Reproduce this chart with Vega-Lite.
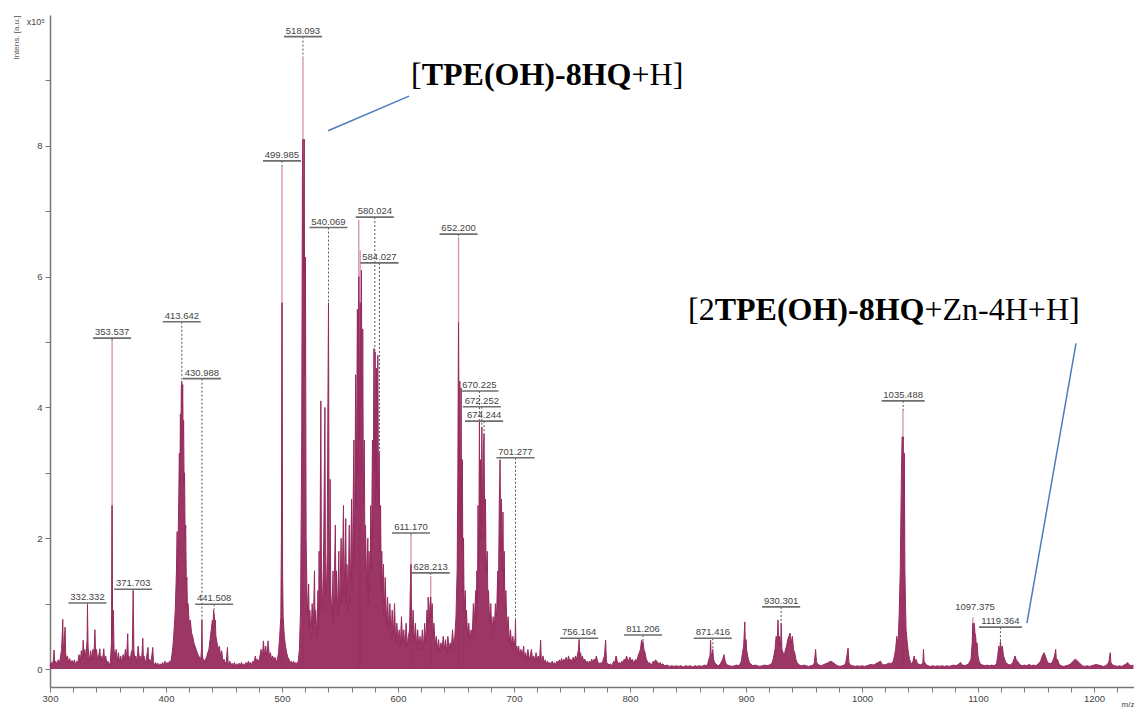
{
"$schema": "https://vega.github.io/schema/vega-lite/v6.json",
"width": 1084, "height": 672,
"autosize": {"type": "none"},
"padding": {"left": 50, "top": 15, "right": 0, "bottom": 22},
"background": "white",
"config": {"view": {"stroke": null}},
"datasets": {
"spec": [
{"m":300,"i":0.05},{"m":301,"i":0.1},{"m":302,"i":0.06},{"m":303,"i":0.15},{"m":303.5,"i":0.29},{"m":304,"i":0.08},{"m":305,"i":0.12},{"m":306,"i":0.05},{"m":307,"i":0.14},{"m":308,"i":0.07},{"m":309,"i":0.18},{"m":310,"i":0.3},{"m":310.6,"i":0.55},{"m":311,"i":0.76},{"m":311.5,"i":0.3},{"m":312,"i":0.35},{"m":313,"i":0.64},{"m":313.5,"i":0.25},{"m":314,"i":0.15},{"m":315,"i":0.2},{"m":316,"i":0.1},{"m":317,"i":0.16},{"m":318,"i":0.07},{"m":319,"i":0.13},{"m":320,"i":0.08},{"m":321,"i":0.14},{"m":322,"i":0.06},{"m":323,"i":0.12},{"m":324,"i":0.1},{"m":325,"i":0.22},{"m":326,"i":0.1},{"m":327,"i":0.28},{"m":328,"i":0.15},{"m":328.6,"i":0.44},{"m":329.2,"i":0.2},{"m":330,"i":0.3},{"m":331,"i":0.15},{"m":332,"i":0.45},{"m":332.3,"i":0.98},{"m":332.8,"i":0.35},{"m":333.5,"i":0.2},{"m":334,"i":0.12},{"m":335,"i":0.28},{"m":336,"i":0.15},{"m":337,"i":0.3},{"m":338,"i":0.25},{"m":338.7,"i":0.6},{"m":339.3,"i":0.25},{"m":340,"i":0.3},{"m":341,"i":0.15},{"m":342,"i":0.2},{"m":343,"i":0.31},{"m":343.6,"i":0.12},{"m":344,"i":0.2},{"m":345,"i":0.1},{"m":346.4,"i":0.31},{"m":347,"i":0.12},{"m":348,"i":0.2},{"m":349,"i":0.08},{"m":350,"i":0.12},{"m":351,"i":0.06},{"m":352,"i":0.1},{"m":353,"i":0.4},{"m":353.5,"i":2.5},{"m":354,"i":0.5},{"m":354.6,"i":0.9},{"m":355.2,"i":0.3},{"m":356,"i":0.15},{"m":357,"i":0.3},{"m":358,"i":0.12},{"m":359,"i":0.25},{"m":360,"i":0.1},{"m":361,"i":0.2},{"m":362,"i":0.08},{"m":363,"i":0.22},{"m":364,"i":0.12},{"m":365,"i":0.3},{"m":366,"i":0.15},{"m":367,"i":0.54},{"m":367.5,"i":0.15},{"m":368,"i":0.2},{"m":369,"i":0.1},{"m":370,"i":0.25},{"m":371,"i":0.3},{"m":371.7,"i":1.2},{"m":372.3,"i":0.3},{"m":373,"i":0.15},{"m":374,"i":0.2},{"m":375,"i":0.1},{"m":376,"i":0.35},{"m":377,"i":0.15},{"m":378,"i":0.2},{"m":379,"i":0.12},{"m":380,"i":0.47},{"m":380.5,"i":0.15},{"m":381,"i":0.2},{"m":382,"i":0.1},{"m":383,"i":0.15},{"m":384.5,"i":0.33},{"m":385,"i":0.1},{"m":386,"i":0.15},{"m":387,"i":0.08},{"m":388.6,"i":0.33},{"m":389.2,"i":0.1},{"m":390,"i":0.06},{"m":391,"i":0.1},{"m":392,"i":0.05},{"m":393,"i":0.09},{"m":394,"i":0.04},{"m":395,"i":0.08},{"m":396,"i":0.05},{"m":397,"i":0.1},{"m":398,"i":0.06},{"m":399,"i":0.12},{"m":400,"i":0.07},{"m":401,"i":0.1},{"m":402,"i":0.08},{"m":403,"i":0.12},{"m":404,"i":0.1},{"m":405,"i":0.2},{"m":406,"i":0.35},{"m":407,"i":0.6},{"m":408,"i":0.9},{"m":409,"i":1.5},{"m":409.6,"i":2.1},{"m":410,"i":1.3},{"m":410.5,"i":2.05},{"m":411,"i":2.6},{"m":411.5,"i":3.3},{"m":412,"i":2.8},{"m":412.4,"i":3.9},{"m":412.8,"i":3.3},{"m":413.2,"i":4.3},{"m":413.6,"i":4.4},{"m":414,"i":3.9},{"m":414.4,"i":4.35},{"m":414.8,"i":3.5},{"m":415.2,"i":3.8},{"m":415.6,"i":2.8},{"m":416,"i":3.0},{"m":416.5,"i":2.0},{"m":417,"i":2.2},{"m":417.5,"i":1.3},{"m":418,"i":1.4},{"m":418.5,"i":0.9},{"m":419,"i":1.0},{"m":420,"i":0.7},{"m":421,"i":0.75},{"m":422,"i":0.55},{"m":423,"i":0.5},{"m":424,"i":0.4},{"m":425,"i":0.35},{"m":426,"i":0.3},{"m":427,"i":0.25},{"m":428,"i":0.2},{"m":429,"i":0.18},{"m":430,"i":0.15},{"m":430.6,"i":0.3},{"m":431,"i":0.75},{"m":431.4,"i":0.2},{"m":432,"i":0.15},{"m":433,"i":0.12},{"m":434,"i":0.15},{"m":435,"i":0.18},{"m":436,"i":0.25},{"m":437,"i":0.3},{"m":438,"i":0.45},{"m":439,"i":0.6},{"m":440,"i":0.75},{"m":440.5,"i":0.6},{"m":441,"i":0.9},{"m":441.5,"i":0.85},{"m":442,"i":0.7},{"m":442.5,"i":0.75},{"m":443,"i":0.5},{"m":444,"i":0.4},{"m":445,"i":0.3},{"m":446,"i":0.35},{"m":447,"i":0.2},{"m":448,"i":0.28},{"m":449,"i":0.12},{"m":450,"i":0.15},{"m":451,"i":0.08},{"m":452,"i":0.12},{"m":453,"i":0.33},{"m":453.5,"i":0.1},{"m":454,"i":0.08},{"m":455,"i":0.12},{"m":456,"i":0.05},{"m":457,"i":0.09},{"m":458,"i":0.04},{"m":459,"i":0.1},{"m":460,"i":0.05},{"m":461,"i":0.08},{"m":462,"i":0.04},{"m":463,"i":0.09},{"m":464,"i":0.05},{"m":465,"i":0.1},{"m":466,"i":0.06},{"m":467,"i":0.08},{"m":468,"i":0.05},{"m":469,"i":0.1},{"m":470,"i":0.06},{"m":471,"i":0.12},{"m":472,"i":0.08},{"m":473,"i":0.1},{"m":474,"i":0.06},{"m":475,"i":0.12},{"m":476,"i":0.1},{"m":477,"i":0.2},{"m":478,"i":0.12},{"m":479,"i":0.15},{"m":480,"i":0.1},{"m":481,"i":0.2},{"m":482,"i":0.3},{"m":483,"i":0.15},{"m":484,"i":0.43},{"m":485,"i":0.2},{"m":486,"i":0.35},{"m":487,"i":0.15},{"m":488,"i":0.43},{"m":489,"i":0.2},{"m":490,"i":0.25},{"m":491,"i":0.15},{"m":492,"i":0.2},{"m":493,"i":0.12},{"m":494,"i":0.18},{"m":495,"i":0.1},{"m":496,"i":0.15},{"m":497,"i":0.25},{"m":498,"i":0.5},{"m":499,"i":0.8},{"m":499.5,"i":2.0},{"m":500,"i":5.6},{"m":500.5,"i":1.5},{"m":501,"i":0.8},{"m":502,"i":0.5},{"m":503,"i":0.35},{"m":504,"i":0.25},{"m":505,"i":0.18},{"m":506,"i":0.15},{"m":507,"i":0.1},{"m":508,"i":0.12},{"m":509,"i":0.08},{"m":510,"i":0.12},{"m":511,"i":0.07},{"m":512,"i":0.1},{"m":513,"i":0.08},{"m":514,"i":0.12},{"m":515,"i":0.3},{"m":516,"i":0.9},{"m":517,"i":3.5},{"m":517.6,"i":7.5},{"m":518.1,"i":8.1},{"m":518.6,"i":6.0},{"m":519.2,"i":8.1},{"m":519.6,"i":4.5},{"m":520.2,"i":6.3},{"m":520.8,"i":2.0},{"m":521.5,"i":1.2},{"m":522,"i":0.8},{"m":523,"i":1.3},{"m":523.5,"i":0.6},{"m":524,"i":0.9},{"m":525,"i":0.5},{"m":526,"i":1.0},{"m":527,"i":0.6},{"m":528,"i":1.5},{"m":528.5,"i":0.7},{"m":529,"i":0.9},{"m":530,"i":0.5},{"m":531,"i":1.2},{"m":531.5,"i":0.6},{"m":532,"i":1.8},{"m":532.5,"i":0.8},{"m":533,"i":2.5},{"m":533.5,"i":4.1},{"m":534,"i":1.5},{"m":535,"i":0.9},{"m":536,"i":2.0},{"m":537,"i":4.0},{"m":537.5,"i":1.2},{"m":538,"i":0.9},{"m":539,"i":1.8},{"m":539.5,"i":3.8},{"m":540.1,"i":5.6},{"m":540.6,"i":2.0},{"m":541,"i":1.0},{"m":541.5,"i":2.9},{"m":542,"i":1.2},{"m":543,"i":0.8},{"m":544,"i":1.5},{"m":544.5,"i":0.7},{"m":545,"i":1.2},{"m":546,"i":2.2},{"m":546.5,"i":1.0},{"m":547,"i":1.5},{"m":548,"i":0.8},{"m":549,"i":1.8},{"m":549.5,"i":0.9},{"m":550,"i":1.2},{"m":551,"i":2.0},{"m":551.5,"i":1.0},{"m":552,"i":1.4},{"m":553,"i":2.5},{"m":553.5,"i":1.1},{"m":554,"i":1.5},{"m":555,"i":2.3},{"m":555.5,"i":1.0},{"m":556,"i":1.6},{"m":557,"i":0.9},{"m":558,"i":2.2},{"m":558.5,"i":1.0},{"m":559,"i":1.3},{"m":560,"i":2.6},{"m":560.5,"i":1.2},{"m":561,"i":2.0},{"m":562,"i":3.5},{"m":562.5,"i":1.5},{"m":563.5,"i":4.5},{"m":564,"i":2.5},{"m":565,"i":5.5},{"m":565.6,"i":3.0},{"m":566.2,"i":6.0},{"m":566.8,"i":3.5},{"m":567.4,"i":5.6},{"m":568,"i":4.0},{"m":568.5,"i":6.1},{"m":569,"i":3.0},{"m":569.6,"i":5.2},{"m":570.2,"i":2.5},{"m":571,"i":3.5},{"m":571.5,"i":1.5},{"m":572,"i":2.2},{"m":573,"i":1.2},{"m":574,"i":2.0},{"m":574.5,"i":1.0},{"m":575,"i":1.8},{"m":576,"i":1.2},{"m":576.5,"i":2.5},{"m":577,"i":1.5},{"m":578,"i":3.5},{"m":578.5,"i":2.0},{"m":579.3,"i":4.9},{"m":579.8,"i":3.0},{"m":580.3,"i":4.85},{"m":580.8,"i":2.5},{"m":581.4,"i":4.6},{"m":582,"i":2.8},{"m":582.6,"i":4.8},{"m":583.2,"i":2.5},{"m":583.8,"i":3.3},{"m":584.4,"i":1.8},{"m":585,"i":2.5},{"m":585.5,"i":1.2},{"m":586,"i":1.8},{"m":587,"i":1.0},{"m":587.5,"i":1.6},{"m":588,"i":0.8},{"m":589,"i":1.4},{"m":590,"i":0.7},{"m":591,"i":1.1},{"m":592,"i":0.6},{"m":593,"i":1.0},{"m":594,"i":0.5},{"m":595,"i":0.9},{"m":596,"i":0.5},{"m":597,"i":1.0},{"m":598,"i":0.4},{"m":599,"i":0.7},{"m":600,"i":0.4},{"m":601,"i":0.6},{"m":602,"i":0.35},{"m":603,"i":0.8},{"m":604,"i":0.4},{"m":605,"i":0.6},{"m":606,"i":0.3},{"m":607,"i":0.7},{"m":608,"i":0.35},{"m":609,"i":0.5},{"m":610,"i":0.6},{"m":610.6,"i":1.2},{"m":611.2,"i":1.6},{"m":611.7,"i":0.8},{"m":612.3,"i":0.5},{"m":613,"i":0.9},{"m":614,"i":0.4},{"m":615,"i":0.7},{"m":616,"i":0.35},{"m":617,"i":0.6},{"m":618,"i":0.3},{"m":619,"i":0.5},{"m":620,"i":0.3},{"m":621,"i":0.6},{"m":622,"i":0.3},{"m":623,"i":0.7},{"m":624,"i":0.4},{"m":625,"i":0.9},{"m":625.5,"i":0.5},{"m":626,"i":1.1},{"m":627,"i":0.7},{"m":627.6,"i":1.0},{"m":628.2,"i":1.1},{"m":628.8,"i":0.8},{"m":629.5,"i":1.0},{"m":630.2,"i":0.5},{"m":631,"i":0.7},{"m":632,"i":0.35},{"m":633,"i":0.5},{"m":634,"i":0.3},{"m":635,"i":0.45},{"m":636,"i":0.25},{"m":637,"i":0.4},{"m":638,"i":0.3},{"m":639,"i":0.5},{"m":640,"i":0.3},{"m":641,"i":0.45},{"m":642,"i":0.25},{"m":643,"i":0.5},{"m":644,"i":0.3},{"m":645,"i":0.4},{"m":646,"i":0.3},{"m":647,"i":0.6},{"m":648,"i":0.35},{"m":649,"i":0.5},{"m":650,"i":0.8},{"m":651,"i":1.5},{"m":651.6,"i":3.0},{"m":652.2,"i":5.3},{"m":652.7,"i":2.5},{"m":653.3,"i":4.4},{"m":653.8,"i":2.0},{"m":654.4,"i":4.3},{"m":655,"i":1.8},{"m":655.5,"i":3.2},{"m":656,"i":1.2},{"m":656.5,"i":2.0},{"m":657,"i":0.9},{"m":658,"i":1.2},{"m":658.5,"i":0.6},{"m":659,"i":0.9},{"m":660,"i":0.5},{"m":661,"i":0.7},{"m":662,"i":0.4},{"m":663,"i":0.6},{"m":664,"i":0.5},{"m":665,"i":1.0},{"m":665.5,"i":0.5},{"m":666,"i":0.8},{"m":667,"i":1.2},{"m":667.5,"i":0.7},{"m":668,"i":1.5},{"m":668.5,"i":1.0},{"m":669,"i":2.5},{"m":669.6,"i":1.5},{"m":670.2,"i":3.8},{"m":670.7,"i":2.0},{"m":671.2,"i":3.2},{"m":671.7,"i":2.0},{"m":672.3,"i":3.7},{"m":672.8,"i":2.2},{"m":673.5,"i":3.3},{"m":674.2,"i":3.6},{"m":674.8,"i":2.0},{"m":675.4,"i":2.6},{"m":676,"i":1.5},{"m":677,"i":1.8},{"m":677.5,"i":0.9},{"m":678,"i":1.2},{"m":679,"i":0.7},{"m":680,"i":1.0},{"m":681,"i":0.5},{"m":682,"i":0.8},{"m":683,"i":0.6},{"m":684,"i":1.0},{"m":685,"i":0.8},{"m":686,"i":1.5},{"m":686.5,"i":1.0},{"m":687.3,"i":2.5},{"m":688,"i":3.2},{"m":688.6,"i":1.8},{"m":689.2,"i":2.6},{"m":689.8,"i":1.5},{"m":690.5,"i":2.4},{"m":691,"i":1.2},{"m":691.6,"i":1.8},{"m":692.2,"i":0.9},{"m":693,"i":1.2},{"m":694,"i":0.6},{"m":695,"i":0.8},{"m":696,"i":0.4},{"m":697,"i":0.6},{"m":698,"i":0.35},{"m":699,"i":0.5},{"m":700,"i":0.3},{"m":701,"i":0.5},{"m":701.3,"i":0.75},{"m":701.7,"i":0.3},{"m":702.5,"i":0.35},{"m":703,"i":0.25},{"m":704,"i":0.35},{"m":705,"i":0.2},{"m":706,"i":0.3},{"m":707,"i":0.2},{"m":708.4,"i":0.35},{"m":709,"i":0.15},{"m":710,"i":0.25},{"m":711,"i":0.15},{"m":712,"i":0.3},{"m":713,"i":0.15},{"m":714,"i":0.2},{"m":715,"i":0.3},{"m":716,"i":0.15},{"m":717,"i":0.2},{"m":718,"i":0.12},{"m":719,"i":0.25},{"m":720,"i":0.15},{"m":721,"i":0.2},{"m":722,"i":0.12},{"m":723,"i":0.44},{"m":723.5,"i":0.15},{"m":724,"i":0.12},{"m":725,"i":0.2},{"m":726,"i":0.1},{"m":727,"i":0.14},{"m":728,"i":0.08},{"m":729,"i":0.12},{"m":730,"i":0.07},{"m":731,"i":0.1},{"m":732,"i":0.08},{"m":733,"i":0.12},{"m":734,"i":0.07},{"m":735,"i":0.1},{"m":736,"i":0.06},{"m":737,"i":0.12},{"m":738,"i":0.08},{"m":739,"i":0.14},{"m":740,"i":0.1},{"m":741,"i":0.16},{"m":742,"i":0.1},{"m":743,"i":0.15},{"m":744,"i":0.12},{"m":745,"i":0.18},{"m":746,"i":0.1},{"m":747,"i":0.2},{"m":748,"i":0.12},{"m":749,"i":0.15},{"m":750,"i":0.1},{"m":751,"i":0.18},{"m":752,"i":0.12},{"m":753,"i":0.2},{"m":754,"i":0.15},{"m":755,"i":0.25},{"m":755.6,"i":0.3},{"m":756.2,"i":0.45},{"m":756.7,"i":0.2},{"m":757.5,"i":0.25},{"m":758,"i":0.15},{"m":759,"i":0.2},{"m":760,"i":0.12},{"m":761,"i":0.15},{"m":762,"i":0.1},{"m":763,"i":0.12},{"m":764,"i":0.08},{"m":765,"i":0.12},{"m":766,"i":0.1},{"m":767,"i":0.15},{"m":768,"i":0.1},{"m":769,"i":0.15},{"m":770,"i":0.12},{"m":771,"i":0.2},{"m":772,"i":0.12},{"m":773,"i":0.1},{"m":774,"i":0.08},{"m":775,"i":0.1},{"m":776,"i":0.08},{"m":777,"i":0.15},{"m":778,"i":0.2},{"m":779,"i":0.44},{"m":779.6,"i":0.15},{"m":780,"i":0.1},{"m":781,"i":0.08},{"m":782,"i":0.06},{"m":783,"i":0.08},{"m":784,"i":0.05},{"m":785,"i":0.08},{"m":786,"i":0.12},{"m":787,"i":0.1},{"m":788,"i":0.2},{"m":789,"i":0.12},{"m":790,"i":0.08},{"m":791,"i":0.1},{"m":792,"i":0.08},{"m":793,"i":0.12},{"m":794,"i":0.1},{"m":795,"i":0.15},{"m":796,"i":0.12},{"m":797,"i":0.2},{"m":798,"i":0.15},{"m":799,"i":0.12},{"m":800,"i":0.18},{"m":801,"i":0.12},{"m":802,"i":0.15},{"m":803,"i":0.1},{"m":804,"i":0.12},{"m":805,"i":0.15},{"m":806,"i":0.12},{"m":807,"i":0.2},{"m":808,"i":0.25},{"m":809,"i":0.3},{"m":810,"i":0.44},{"m":810.6,"i":0.35},{"m":811.2,"i":0.42},{"m":812,"i":0.3},{"m":813,"i":0.25},{"m":814,"i":0.15},{"m":815,"i":0.12},{"m":816,"i":0.08},{"m":817,"i":0.1},{"m":818,"i":0.06},{"m":819,"i":0.08},{"m":820,"i":0.12},{"m":821,"i":0.1},{"m":822,"i":0.14},{"m":823,"i":0.12},{"m":824,"i":0.1},{"m":825,"i":0.08},{"m":826,"i":0.1},{"m":827,"i":0.06},{"m":828,"i":0.08},{"m":830,"i":0.05},{"m":832,"i":0.06},{"m":834,"i":0.04},{"m":836,"i":0.05},{"m":838,"i":0.04},{"m":840,"i":0.05},{"m":842,"i":0.04},{"m":844,"i":0.05},{"m":846,"i":0.03},{"m":848,"i":0.05},{"m":850,"i":0.04},{"m":852,"i":0.05},{"m":854,"i":0.03},{"m":856,"i":0.05},{"m":858,"i":0.04},{"m":860,"i":0.05},{"m":862,"i":0.04},{"m":864,"i":0.06},{"m":866,"i":0.05},{"m":867,"i":0.08},{"m":868,"i":0.15},{"m":869,"i":0.2},{"m":869.5,"i":0.44},{"m":870,"i":0.2},{"m":871,"i":0.25},{"m":871.4,"i":0.3},{"m":872,"i":0.15},{"m":873,"i":0.1},{"m":874,"i":0.08},{"m":875,"i":0.06},{"m":876,"i":0.05},{"m":877,"i":0.06},{"m":878,"i":0.08},{"m":879,"i":0.12},{"m":880,"i":0.15},{"m":881,"i":0.22},{"m":882,"i":0.12},{"m":883,"i":0.08},{"m":884,"i":0.06},{"m":886,"i":0.05},{"m":888,"i":0.04},{"m":890,"i":0.05},{"m":892,"i":0.06},{"m":894,"i":0.05},{"m":895,"i":0.08},{"m":896,"i":0.12},{"m":897,"i":0.25},{"m":898,"i":0.35},{"m":899,"i":0.72},{"m":899.5,"i":0.3},{"m":900,"i":0.45},{"m":900.5,"i":0.3},{"m":901,"i":0.25},{"m":902,"i":0.15},{"m":903,"i":0.1},{"m":904,"i":0.08},{"m":905,"i":0.06},{"m":906,"i":0.05},{"m":908,"i":0.06},{"m":910,"i":0.05},{"m":912,"i":0.04},{"m":914,"i":0.05},{"m":916,"i":0.06},{"m":918,"i":0.05},{"m":920,"i":0.06},{"m":922,"i":0.08},{"m":923,"i":0.12},{"m":924,"i":0.2},{"m":925,"i":0.3},{"m":926,"i":0.5},{"m":927,"i":0.45},{"m":927.6,"i":0.75},{"m":928.2,"i":0.35},{"m":929,"i":0.5},{"m":930,"i":0.35},{"m":930.3,"i":0.7},{"m":931,"i":0.3},{"m":932,"i":0.25},{"m":933,"i":0.2},{"m":934,"i":0.3},{"m":935,"i":0.35},{"m":936,"i":0.45},{"m":937,"i":0.5},{"m":938,"i":0.55},{"m":939,"i":0.4},{"m":940,"i":0.5},{"m":941,"i":0.3},{"m":942,"i":0.25},{"m":943,"i":0.15},{"m":944,"i":0.1},{"m":945,"i":0.08},{"m":946,"i":0.06},{"m":948,"i":0.05},{"m":950,"i":0.06},{"m":952,"i":0.05},{"m":954,"i":0.04},{"m":956,"i":0.05},{"m":958,"i":0.06},{"m":959,"i":0.1},{"m":960,"i":0.3},{"m":960.7,"i":0.12},{"m":961.5,"i":0.08},{"m":963,"i":0.06},{"m":965,"i":0.05},{"m":967,"i":0.07},{"m":969,"i":0.08},{"m":971,"i":0.1},{"m":973,"i":0.12},{"m":975,"i":0.1},{"m":977,"i":0.07},{"m":979,"i":0.05},{"m":981,"i":0.04},{"m":983,"i":0.05},{"m":985,"i":0.06},{"m":986,"i":0.1},{"m":987,"i":0.2},{"m":988,"i":0.32},{"m":988.7,"i":0.1},{"m":990,"i":0.06},{"m":992,"i":0.05},{"m":994,"i":0.04},{"m":996,"i":0.05},{"m":998,"i":0.04},{"m":1000,"i":0.05},{"m":1002,"i":0.04},{"m":1004,"i":0.05},{"m":1006,"i":0.06},{"m":1008,"i":0.07},{"m":1010,"i":0.06},{"m":1012,"i":0.08},{"m":1014,"i":0.1},{"m":1016,"i":0.12},{"m":1017,"i":0.08},{"m":1019,"i":0.06},{"m":1021,"i":0.07},{"m":1023,"i":0.09},{"m":1025,"i":0.08},{"m":1027,"i":0.12},{"m":1028,"i":0.2},{"m":1029,"i":0.3},{"m":1030,"i":0.5},{"m":1031,"i":0.35},{"m":1032,"i":0.8},{"m":1033,"i":1.5},{"m":1034,"i":3.0},{"m":1034.6,"i":3.55},{"m":1035.2,"i":3.5},{"m":1035.6,"i":3.55},{"m":1036,"i":2.0},{"m":1036.5,"i":3.3},{"m":1037,"i":1.5},{"m":1037.5,"i":1.0},{"m":1038,"i":0.6},{"m":1039,"i":0.4},{"m":1040,"i":0.25},{"m":1041,"i":0.15},{"m":1042,"i":0.1},{"m":1043,"i":0.08},{"m":1044,"i":0.12},{"m":1045,"i":0.2},{"m":1045.6,"i":0.1},{"m":1046.5,"i":0.15},{"m":1047.5,"i":0.1},{"m":1049,"i":0.07},{"m":1051,"i":0.06},{"m":1052.5,"i":0.1},{"m":1053,"i":0.3},{"m":1053.5,"i":0.12},{"m":1055,"i":0.07},{"m":1057,"i":0.05},{"m":1059,"i":0.04},{"m":1061,"i":0.05},{"m":1063,"i":0.04},{"m":1065,"i":0.05},{"m":1067,"i":0.04},{"m":1069,"i":0.05},{"m":1071,"i":0.04},{"m":1073,"i":0.05},{"m":1075,"i":0.04},{"m":1077,"i":0.05},{"m":1079,"i":0.06},{"m":1081,"i":0.05},{"m":1083,"i":0.07},{"m":1085,"i":0.1},{"m":1086,"i":0.07},{"m":1088,"i":0.05},{"m":1090,"i":0.06},{"m":1092,"i":0.08},{"m":1094,"i":0.15},{"m":1095,"i":0.4},{"m":1095.6,"i":0.7},{"m":1096.2,"i":0.5},{"m":1096.8,"i":0.7},{"m":1097.4,"i":0.55},{"m":1098,"i":0.5},{"m":1098.6,"i":0.35},{"m":1099.2,"i":0.4},{"m":1100,"i":0.2},{"m":1101,"i":0.12},{"m":1102,"i":0.08},{"m":1104,"i":0.06},{"m":1106,"i":0.05},{"m":1108,"i":0.06},{"m":1110,"i":0.05},{"m":1112,"i":0.06},{"m":1114,"i":0.05},{"m":1116,"i":0.08},{"m":1117,"i":0.2},{"m":1118,"i":0.35},{"m":1118.6,"i":0.25},{"m":1119.4,"i":0.42},{"m":1120,"i":0.3},{"m":1121,"i":0.35},{"m":1122,"i":0.2},{"m":1123,"i":0.15},{"m":1124,"i":0.1},{"m":1126,"i":0.07},{"m":1128,"i":0.06},{"m":1130,"i":0.1},{"m":1131,"i":0.15},{"m":1132,"i":0.2},{"m":1133,"i":0.14},{"m":1134,"i":0.12},{"m":1136,"i":0.07},{"m":1138,"i":0.05},{"m":1140,"i":0.06},{"m":1142,"i":0.05},{"m":1144,"i":0.07},{"m":1146,"i":0.05},{"m":1148,"i":0.06},{"m":1150,"i":0.05},{"m":1152,"i":0.08},{"m":1154,"i":0.12},{"m":1155,"i":0.18},{"m":1156,"i":0.22},{"m":1157,"i":0.25},{"m":1158,"i":0.2},{"m":1159,"i":0.15},{"m":1160,"i":0.1},{"m":1162,"i":0.08},{"m":1164,"i":0.1},{"m":1165,"i":0.15},{"m":1166,"i":0.2},{"m":1167,"i":0.3},{"m":1167.6,"i":0.12},{"m":1168.5,"i":0.15},{"m":1170,"i":0.07},{"m":1172,"i":0.05},{"m":1174,"i":0.04},{"m":1176,"i":0.05},{"m":1178,"i":0.06},{"m":1180,"i":0.08},{"m":1182,"i":0.12},{"m":1184,"i":0.15},{"m":1186,"i":0.12},{"m":1188,"i":0.08},{"m":1190,"i":0.05},{"m":1192,"i":0.04},{"m":1194,"i":0.05},{"m":1196,"i":0.04},{"m":1198,"i":0.05},{"m":1200,"i":0.06},{"m":1202,"i":0.07},{"m":1204,"i":0.06},{"m":1206,"i":0.05},{"m":1208,"i":0.04},{"m":1210,"i":0.05},{"m":1212,"i":0.08},{"m":1213,"i":0.12},{"m":1214,"i":0.25},{"m":1214.6,"i":0.1},{"m":1216,"i":0.06},{"m":1218,"i":0.05},{"m":1220,"i":0.04},{"m":1222,"i":0.05},{"m":1224,"i":0.04},{"m":1226,"i":0.06},{"m":1228,"i":0.08},{"m":1229,"i":0.1},{"m":1230,"i":0.07},{"m":1232,"i":0.05},{"m":1234,"i":0.06}
],
"spikes": [
{"m":353.54,"i":5.07},{"m":499.98,"i":7.68},{"m":518.09,"i":9.35},{"m":566.2,"i":6.87},{"m":567.4,"i":6.4},{"m":611.17,"i":2.05},{"m":628.21,"i":1.42},{"m":652.2,"i":6.6},{"m":1035.3,"i":3.95},{"m":1095.7,"i":0.79}
],
"labels": [
{"t":"332.332","m":332.332,"u":1.01,"i":0.98,"lo":315.9,"hi":348.7,"ul":1},
{"t":"353.537","m":353.537,"u":5.06,"i":5.0,"lo":337.1,"hi":369.9,"ul":1},
{"t":"371.703","m":371.703,"u":1.22,"i":1.2,"lo":355.3,"hi":388.1,"ul":1},
{"t":"413.642","m":413.642,"u":5.31,"i":4.4,"lo":397.2,"hi":430.0,"ul":1},
{"t":"430.988","m":430.988,"u":4.44,"i":0.75,"lo":414.6,"hi":447.4,"ul":1},
{"t":"441.508","m":441.508,"u":0.99,"i":0.9,"lo":425.1,"hi":457.9,"ul":1},
{"t":"499.985","m":499.985,"u":7.77,"i":7.68,"lo":483.6,"hi":516.4,"ul":1},
{"t":"518.093","m":518.093,"u":9.67,"i":9.35,"lo":501.7,"hi":534.5,"ul":1},
{"t":"540.069","m":540.069,"u":6.75,"i":5.6,"lo":523.7,"hi":556.5,"ul":1},
{"t":"580.024","m":580.024,"u":6.91,"i":4.85,"lo":563.6,"hi":596.4,"ul":1},
{"t":"584.027","m":584.027,"u":6.21,"i":3.3,"lo":567.6,"hi":600.4,"ul":1},
{"t":"611.170","m":611.17,"u":2.08,"i":2.05,"lo":594.8,"hi":627.6,"ul":1},
{"t":"628.213","m":628.213,"u":1.47,"i":1.42,"lo":611.8,"hi":644.6,"ul":1},
{"t":"652.200","m":652.2,"u":6.65,"i":6.6,"lo":635.8,"hi":668.6,"ul":1},
{"t":"670.225","m":670.225,"u":4.25,"i":3.8,"lo":653.8,"hi":686.6,"ul":1},
{"t":"672.252","m":672.252,"u":4.01,"i":3.7,"lo":655.9,"hi":688.7,"ul":1},
{"t":"674.244","m":674.244,"u":3.79,"i":3.6,"lo":657.8,"hi":690.6,"ul":1},
{"t":"701.277","m":701.277,"u":3.23,"i":0.75,"lo":684.9,"hi":717.7,"ul":1},
{"t":"756.164","m":756.164,"u":0.47,"i":0.45,"lo":739.8,"hi":772.6,"ul":1},
{"t":"811.206","m":811.206,"u":0.52,"i":0.42,"lo":794.8,"hi":827.6,"ul":1},
{"t":"871.416","m":871.416,"u":0.47,"i":0.3,"lo":855.0,"hi":887.8,"ul":1},
{"t":"930.301","m":930.301,"u":0.95,"i":0.7,"lo":913.9,"hi":946.7,"ul":1},
{"t":"1035.488","m":1035.488,"u":4.1,"i":3.95,"lo":1017.0,"hi":1054.0,"ul":1},
{"t":"1097.375","m":1097.375,"u":0.85,"i":0.85,"lo":1080.0,"hi":1115.0,"ul":0},
{"t":"1119.364","m":1119.364,"u":0.64,"i":0.42,"lo":1100.9,"hi":1137.9,"ul":1}
],
"annot": [
{"t":"[","m":611.2,"i":8.93,"w":"normal"},
{"t":"TPE(OH)-8HQ","m":620.4,"i":8.93,"w":"bold"},
{"t":"+H]","m":801.3,"i":8.93,"w":"normal"},
{"t":"[2","m":850.0,"i":5.34,"w":"normal"},
{"t":"TPE(OH)-8HQ","m":873.0,"i":5.34,"w":"bold"},
{"t":"+Zn-4H+H]","m":1053.9,"i":5.34,"w":"normal"}
],
"pointers": [
{"g":1,"m":539.7,"i":8.23},{"g":1,"m":609.5,"i":8.76},
{"g":2,"m":1142.2,"i":0.7},{"g":2,"m":1184.5,"i":4.98}
],
"corner": [{"m":300,"i":10,"t":"x10⁵"}]
},
"encoding": {
"x": {"field": "m", "type": "quantitative",
  "scale": {"domain": [300, 1234.5], "nice": false, "zero": false},
  "axis": {"title": "m/z", "values": [300,320,340,360,380,400,420,440,460,480,500,520,540,560,580,600,620,640,660,680,700,720,740,760,780,800,820,840,860,880,900,920,940,960,980,1000,1020,1040,1060,1080,1100,1120,1140,1160,1180,1200,1220],
    "labelExpr": "datum.value % 100 === 0 ? format(datum.value, 'd') : ''",
    "grid": false, "domainColor": "#777777", "domainWidth": 1.5, "tickColor": "#777777", "tickSize": 5, "tickWidth": 1,
    "labelFont": "Liberation Sans", "labelFontSize": 9.5, "labelColor": "#444444", "labelPadding": 1, "labelFlush": false,
    "titleFont": "Liberation Sans", "titleFontSize": 8, "titleFontWeight": "normal", "titleColor": "#444444",
    "titleAnchor": "end", "titleAlign": "right", "titleX": 1084, "titleY": 19, "titleBaseline": "alphabetic"}},
"y": {"field": "i", "type": "quantitative",
  "scale": {"domain": [-0.275, 10], "nice": false, "zero": false},
  "axis": {"title": "Intens. [a.u.]", "values": [0,1,2,3,4,5,6,7,8,9],
    "labelExpr": "datum.value % 2 === 0 ? format(datum.value, 'd') : ''",
    "grid": false, "domainColor": "#777777", "domainWidth": 1.5, "tickColor": "#777777", "tickSize": 5, "tickWidth": 1,
    "labelFont": "Liberation Sans", "labelFontSize": 9.5, "labelColor": "#444444", "labelPadding": 3,
    "titleFont": "Liberation Sans", "titleFontSize": 8, "titleFontWeight": "normal", "titleColor": "#555555",
    "titleAngle": -90, "titleAnchor": "end", "titleAlign": "right", "titleBaseline": "middle", "titleX": -34, "titleY": 0}}
},
"layer": [
{"data": {"name": "spikes"}, "mark": {"type": "rule", "color": "#d590b0", "strokeWidth": 1.3},
 "encoding": {"y2": {"datum": 0}}},
{"data": {"name": "spec"}, "mark": {"type": "area", "color": "#962b5d", "opacity": 0.95}},
{"data": {"name": "spec"}, "mark": {"type": "line", "color": "#962b5d", "strokeWidth": 1}},
{"data": {"name": "labels"}, "transform": [{"filter": "datum.ul == 1"}],
 "mark": {"type": "rule", "color": "#555555", "strokeWidth": 1, "strokeDash": [2, 2]},
 "encoding": {"y": {"field": "u", "type": "quantitative"}, "y2": {"field": "i"}}},
{"data": {"name": "labels"}, "transform": [{"filter": "datum.ul == 1"}],
 "mark": {"type": "rule", "color": "#6e6e6e", "strokeWidth": 1.6},
 "encoding": {"x": {"field": "lo", "type": "quantitative"}, "x2": {"field": "hi"}, "y": {"field": "u", "type": "quantitative"}}},
{"data": {"name": "labels"},
 "mark": {"type": "text", "font": "Liberation Sans", "fontSize": 9.5, "color": "#444444", "baseline": "alphabetic", "align": "center", "dy": -3},
 "encoding": {"y": {"field": "u", "type": "quantitative"}, "text": {"field": "t"}}},
{"data": {"name": "pointers"}, "mark": {"type": "line", "color": "#4a7ebb", "strokeWidth": 1.5},
 "encoding": {"detail": {"field": "g"}}},
{"data": {"name": "annot"}, "transform": [{"filter": "datum.w == 'normal'"}],
 "mark": {"type": "text", "font": "Liberation Serif", "fontSize": 32, "fontWeight": "normal", "color": "#000000", "align": "left", "baseline": "alphabetic"},
 "encoding": {"text": {"field": "t"}}},
{"data": {"name": "annot"}, "transform": [{"filter": "datum.w == 'bold'"}],
 "mark": {"type": "text", "font": "Liberation Serif", "fontSize": 32, "fontWeight": "bold", "color": "#000000", "align": "left", "baseline": "alphabetic"},
 "encoding": {"text": {"field": "t"}}},
{"data": {"values": [{"a": 1}]}, "mark": {"type": "rule", "color": "#777777", "strokeWidth": 1.5},
 "encoding": {"y": {"datum": 10}, "x": {"datum": 300}, "x2": {"datum": 1234.5}}},
{"data": {"name": "corner"}, "mark": {"type": "text", "font": "Liberation Sans", "fontSize": 9, "color": "#444444", "align": "right", "baseline": "alphabetic", "dx": -5, "dy": 10},
 "encoding": {"text": {"field": "t"}}}
]
}
